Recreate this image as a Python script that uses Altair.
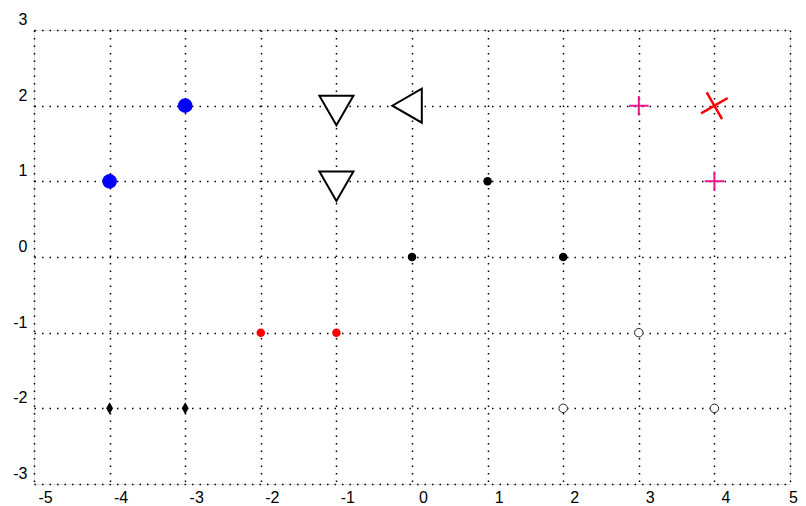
import altair as alt
import pandas as pd

# marker groups: x and y values
blue_x = [-4, -3]
blue_y = [1, 2]
tridown_x = [-1, -1]
tridown_y = [2, 1]
trileft_x = [0]
trileft_y = [2]
black_x = [1, 0, 2]
black_y = [1, 0, 0]
red_x = [-2, -1]
red_y = [-1, -1]
diamond_x = [-4, -3]
diamond_y = [-2, -2]
open_x = [3, 2, 4]
open_y = [-1, -2, -2]
plus_x = [3, 4]
plus_y = [2, 1]
xmark_x = [4]
xmark_y = [2]

ticks_x = [-5, -4, -3, -2, -1, 0, 1, 2, 3, 4, 5]
ticks_y = [-3, -2, -1, 0, 1, 2, 3]

FONT = "Liberation Sans"

xs = alt.Scale(domain=[-5, 5], nice=False, zero=False)
ys = alt.Scale(domain=[-3, 3], nice=False, zero=False)

xax = alt.Axis(values=ticks_x, title=None, grid=True, gridColor="black",
               gridDash=[1.5, 6], gridWidth=1.5, gridOpacity=1,
               domain=False, ticks=False, labelFont=FONT, labelFontSize=16,
               labelColor="black",
               labelOffset={"condition": {"test": "datum.value >= 5", "value": 3}, "value": 11},
               labelPadding=5, labelFlush=False,
               labelExpr="'' + datum.value")
yax = alt.Axis(values=ticks_y, title=None, grid=True, gridColor="black",
               gridDash=[1.5, 6], gridWidth=1.5, gridOpacity=1,
               domain=False, ticks=False, labelFont=FONT, labelFontSize=16,
               labelColor="black", labelOffset=-10.5, labelPadding=7, labelFlush=False,
               labelExpr="'' + datum.value")


def layer(xv, yv, **mark):
    df = pd.DataFrame({"x": xv, "y": yv})
    return alt.Chart(df).mark_point(**mark).encode(
        x=alt.X("x:Q", scale=xs, axis=xax),
        y=alt.Y("y:Q", scale=ys, axis=yax),
    )


TRI_DOWN = "M-1,-0.577L1,-0.577L0,1.155Z"
TRI_LEFT = "M0.577,-1L0.577,1L-1.155,0Z"
THIN_DIAMOND = "M0,-1L0.58,0L0,1L-0.58,0Z"
PLUS = "M-1,0L1,0M0,-1L0,1"

layers = [
    layer(blue_x, blue_y, shape="circle", filled=True, color="#0000ff",
          size=215, opacity=1, strokeWidth=0),
    layer(tridown_x, tridown_y, shape=TRI_DOWN, filled=True, fill="white",
          stroke="black", size=1156, opacity=1, fillOpacity=1, strokeWidth=2),
    layer(trileft_x, trileft_y, shape=TRI_LEFT, filled=True, fill="white",
          stroke="black", size=1156, opacity=1, fillOpacity=1, strokeWidth=2),
    layer(black_x, black_y, shape="circle", filled=True, color="black",
          size=72, opacity=1, strokeWidth=0),
    layer(red_x, red_y, shape="circle", filled=True, color="#ff0000",
          size=72, opacity=1, strokeWidth=0),
    layer(diamond_x, diamond_y, shape=THIN_DIAMOND, filled=True, color="black",
          size=144, opacity=1, strokeWidth=0),
    layer(open_x, open_y, shape="circle", filled=True, fill="white",
          stroke="#222222", size=72, opacity=1, fillOpacity=1, strokeWidth=1),
    layer(plus_x, plus_y, shape=PLUS, filled=False, color="#e8178a",
          size=380, opacity=1, strokeWidth=2),
    layer(xmark_x, xmark_y, shape=PLUS, filled=False, color="#ff0000",
          size=949, opacity=1, strokeWidth=2.5, angle=60),
]

chart = alt.layer(*layers).properties(
    width=756, height=454,
    autosize=alt.AutoSizeParams(type="none"),
    padding={"left": 26, "top": 22, "right": 8, "bottom": 20},
).configure_view(stroke=None).configure(background="white")

chart.save("out.html", embed_options={"renderer": "svg", "actions": False})
